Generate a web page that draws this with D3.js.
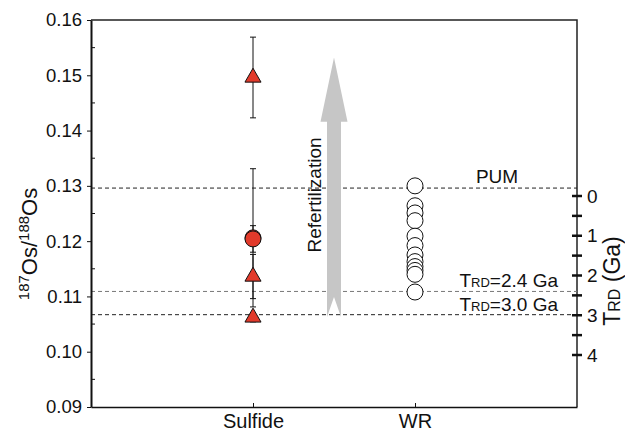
<!DOCTYPE html>
<html>
<head>
<meta charset="utf-8">
<script src="https://cdn.jsdelivr.net/npm/d3@7"></script>
<style>
  html, body { margin: 0; padding: 0; background: #fff; }
  svg { display: block; font-family: "Liberation Sans", Arial, sans-serif; }
</style>
</head>
<body>
<svg id="chart" width="625" height="434"></svg>
<script>
// Categories on the x axis
const categories = ["Sulfide", "WR"];

// Sulfide analyses: 187Os/188Os, 2-sigma error, marker shape
const sulfideValues = [0.1496, 0.1206, 0.1204, 0.1136, 0.1062];
const sulfideErrors = [0.0073, 0.0125, 0.0024, 0.0040, 0.0008];
const sulfideShapes = ["triangle", "circle", "circle", "triangle", "triangle"];

// Whole-rock 187Os/188Os
const wrValues = [0.1300, 0.1264, 0.1251, 0.1237, 0.1209, 0.1192, 0.1175,
                  0.1163, 0.1154, 0.1147, 0.1140, 0.1108];

// Reference levels
const refNames = ["PUM", "TRD=2.4 Ga", "TRD=3.0 Ga"];
const refValues = [0.1296, 0.1109, 0.1067];

// Axis ticks
const yTicks = [0.09, 0.10, 0.11, 0.12, 0.13, 0.14, 0.15, 0.16];
const yMinorTicks = [0.095, 0.105, 0.115, 0.125, 0.135, 0.145, 0.155];
const trdTicks = [0, 1, 2, 3, 4];
const trdMinorTicks = [0.5, 1.5, 2.5, 3.5];

// Refertilization arrow (x position in category units, Os ratios for tip/head/tail)
const arrowX = 1.5;
const arrowTip = 0.1532, arrowHeadBase = 0.1416, arrowNotch = 0.1099, arrowTail = 0.1063;

const svg = d3.select("#chart");
const mLeft = 91, mRight = 577, mTop = 20, mBottom = 407;

const x = d3.scaleLinear().domain([0, 3]).range([mLeft, mRight]);
const y = d3.scaleLinear().domain([0.09, 0.16]).range([mBottom, mTop]);
const trd = d3.scaleLinear().domain([0, 4]).range([196, 355]);
const catX = d => x(categories.indexOf(d) + 1);

const red = "#e23a2b";
const font = "Liberation Sans, Arial, sans-serif";

// Frame: top and right border
svg.append("path")
  .attr("d", `M${mLeft},${mTop}H${mRight}V${mBottom}`)
  .attr("fill", "none").attr("stroke", "#222").attr("stroke-width", 1.5);

// Reference dashed lines
const refColors = ["#222", "#777", "#222"];
svg.selectAll("line.ref").data(refValues).join("line")
  .attr("class", "ref")
  .attr("x1", mLeft).attr("x2", mRight)
  .attr("y1", d => y(d)).attr("y2", d => y(d))
  .attr("stroke", (d, i) => refColors[i])
  .attr("stroke-width", 1)
  .attr("stroke-dasharray", "4,3");

// Left axis
const yAxis = d3.axisLeft(y).tickValues(yTicks).tickFormat(d3.format(".2f"))
  .tickSizeInner(4).tickSizeOuter(0).tickPadding(5);
const gy = svg.append("g").attr("transform", `translate(${mLeft},0)`).call(yAxis);
gy.select(".domain").attr("stroke", "#111").attr("stroke-width", 2);
gy.selectAll(".tick line").attr("stroke", "#111");
gy.selectAll(".tick text").attr("font-size", 18.5).attr("fill", "#111")
  .attr("font-family", font);
svg.append("g").selectAll("line").data(yMinorTicks).join("line")
  .attr("x1", mLeft).attr("x2", mLeft + 4)
  .attr("y1", d => y(d)).attr("y2", d => y(d))
  .attr("stroke", "#111");

// Bottom axis
const xAxis = d3.axisBottom(x).tickValues([1, 2]).tickFormat(d => categories[d - 1])
  .tickSizeInner(-4).tickSizeOuter(0).tickPadding(7);
const gx = svg.append("g").attr("transform", `translate(0,${mBottom})`).call(xAxis);
gx.select(".domain").attr("stroke", "#111").attr("stroke-width", 1.5);
gx.selectAll(".tick line").attr("stroke", "#111");
gx.selectAll(".tick text").attr("font-size", 20).attr("fill", "#111")
  .attr("font-family", font);

// Right TRD axis ticks (crossing the frame)
const trdG = svg.append("g");
trdG.selectAll("line").data(trdTicks.concat(trdMinorTicks)).join("line")
  .attr("x1", mRight - 5).attr("x2", mRight + 5)
  .attr("y1", d => trd(d)).attr("y2", d => trd(d))
  .attr("stroke", "#111").attr("stroke-width", 2.5);
trdG.selectAll("text").data(trdTicks).join("text")
  .attr("x", mRight + 10).attr("y", d => trd(d)).attr("dy", "0.35em")
  .attr("font-size", 19).attr("fill", "#111").text(d => d);

// Axis titles
const yTitle = svg.append("text")
  .attr("transform", "translate(37,244) rotate(-90)")
  .attr("text-anchor", "middle").attr("font-size", 22).attr("fill", "#111");
yTitle.append("tspan").attr("font-size", 15).attr("dy", -8).text("187");
yTitle.append("tspan").attr("dy", 8).text("Os/");
yTitle.append("tspan").attr("font-size", 15).attr("dy", -8).text("188");
yTitle.append("tspan").attr("dy", 8).text("Os");

const rTitle = svg.append("text")
  .attr("transform", "translate(620,281) rotate(-90)")
  .attr("text-anchor", "middle").attr("font-size", 23).attr("fill", "#111");
rTitle.append("tspan").text("T");
rTitle.append("tspan").attr("font-size", 16).text("RD");
rTitle.append("tspan").text(" (Ga)");

// Reference labels
svg.append("text").attr("x", 497).attr("y", y(refValues[0]) - 5)
  .attr("text-anchor", "middle").attr("font-size", 19).attr("fill", "#111")
  .text(refNames[0]);
[1, 2].forEach(i => {
  const t = svg.append("text").attr("x", 558).attr("y", y(refValues[i]) - 4)
    .attr("text-anchor", "end").attr("font-size", 19).attr("fill", "#111");
  const name = refNames[i];
  t.append("tspan").text(name.slice(0, 1));
  t.append("tspan").attr("font-size", 13).text(name.slice(1, 3));
  t.append("tspan").text(name.slice(3));
});

// Refertilization arrow
const ax = x(arrowX), shaftHalf = 7, headHalf = 13.5;
svg.append("path")
  .attr("d", [
    `M${ax},${y(arrowTip)}`,
    `L${ax + headHalf},${y(arrowHeadBase)}`,
    `L${ax + shaftHalf},${y(arrowHeadBase)}`,
    `L${ax + shaftHalf},${y(arrowTail)}`,
    `L${ax},${y(arrowNotch)}`,
    `L${ax - shaftHalf},${y(arrowTail)}`,
    `L${ax - shaftHalf},${y(arrowHeadBase)}`,
    `L${ax - headHalf},${y(arrowHeadBase)}`,
    "Z"].join(""))
  .attr("fill", "#c6c6c6");
svg.append("text")
  .attr("transform", `translate(${ax - 13},195) rotate(-90)`)
  .attr("text-anchor", "middle").attr("font-size", 19).attr("fill", "#111")
  .text("Refertilization");

// Sulfide error bars
const sx = catX("Sulfide");
const sulf = sulfideValues.map((v, i) => ({ v, e: sulfideErrors[i], s: sulfideShapes[i] }));
const eb = svg.append("g").attr("stroke", "#111").attr("stroke-width", 1);
sulf.forEach(d => {
  eb.append("line").attr("x1", sx).attr("x2", sx).attr("y1", y(d.v + d.e)).attr("y2", y(d.v - d.e));
  [d.v + d.e, d.v - d.e].forEach(c =>
    eb.append("line").attr("x1", sx - 3).attr("x2", sx + 3).attr("y1", y(c)).attr("y2", y(c)));
});

// Sulfide markers
svg.append("g").selectAll("path").data(sulf).join("path")
  .attr("transform", d => `translate(${sx},${y(d.v)})`)
  .attr("d", d => d3.symbol(d.s === "circle" ? d3.symbolCircle : d3.symbolTriangle,
                             d.s === "circle" ? 200 : 112)())
  .attr("fill", red).attr("stroke", "#111").attr("stroke-width", 1);

// Whole-rock markers
const wx = catX("WR");
svg.append("g").selectAll("circle").data(wrValues).join("circle")
  .attr("cx", wx).attr("cy", d => y(d)).attr("r", 8)
  .attr("fill", "#fff").attr("stroke", "#111").attr("stroke-width", 1);
</script>
</body>
</html>
